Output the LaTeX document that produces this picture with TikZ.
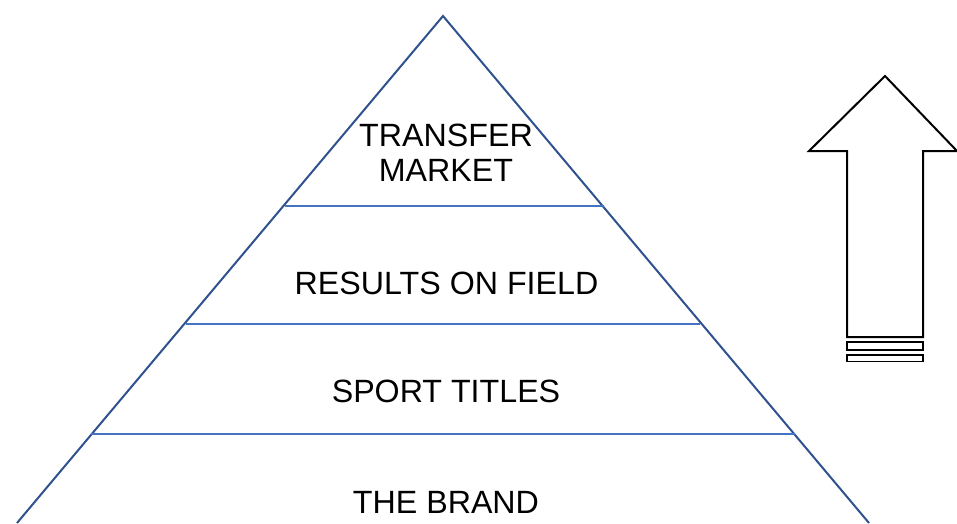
\documentclass[tikz,border=0pt]{standalone}
\usepackage{fontspec}
\setmainfont{Liberation Sans}
\begin{document}
\begin{tikzpicture}[x=1pt,y=-1pt,
  edge/.style={draw=edgeblue,line width=2pt,line join=miter},
  tier/.style={draw=tierblue,line width=1.3pt},
  label/.style={inner sep=0pt,font=\fontsize{32.2}{35}\selectfont,align=center,text=black},
  outline/.style={draw=black,line width=2pt,fill=white,line join=miter}]
\definecolor{edgeblue}{HTML}{2F528F}
\definecolor{tierblue}{HTML}{4472C4}
\useasboundingbox (0,0) rectangle (957,523);
% pyramid outline
\coordinate (apex) at (443,16);
\coordinate (bl) at (17,523);
\coordinate (br) at (869,523);
\draw[edge] (bl) -- (apex) -- (br);
% tier separators
\draw[tier] (285,206) coordinate (t1l) -- (604,206) coordinate (t1r);
\draw[tier] (186,324) coordinate (t2l) -- (700,324) coordinate (t2r);
\draw[tier] (91,434) coordinate (t3l) -- (795,434) coordinate (t3r);
% tier labels
\node[label,anchor=center] (market) at (446,152.5) {TRANSFER\\MARKET};
\node[label,anchor=base] (results) at (446.5,294) {RESULTS ON FIELD};
\node[label,anchor=base] (titles) at (446,402) {SPORT TITLES};
\node[label,anchor=base] (brand) at (446,513) {THE BRAND};
% upward arrow
\draw[outline] (885,76) coordinate (tip) -- (957,151) -- (923,151) -- (923,337)
  -- (847,337) -- (847,151) -- (809,151) -- cycle;
\draw[outline,line width=1.8pt] (847,342) rectangle (923,350);
\draw[outline,line width=1.8pt] (847,355) rectangle (923,361.5);
\end{tikzpicture}
\end{document}
